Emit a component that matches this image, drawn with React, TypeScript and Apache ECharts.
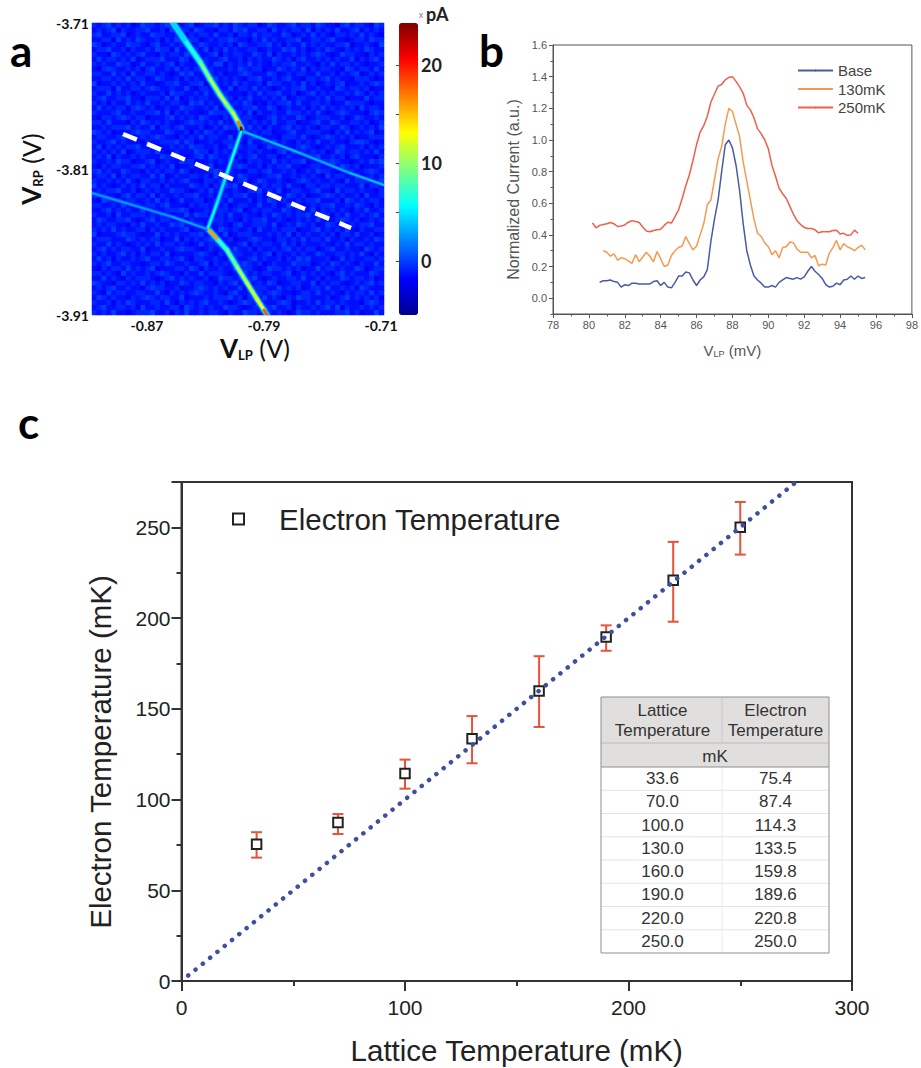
import React, { useEffect, useRef } from "react";
import * as echarts from "echarts";

const heatRows = [
"212312120132212321123012231213212201321123122132110231221032",
"121230211223112031221321102213231122031212213021213112302121",
"231122301211322112302122131120221312211320121312102212131210",
"112203121321120213312201212232110213121122301221231101221322",
"320121132210231121220132112120321122312021131212112230112103",
"122311202112132203112213021312112201211323120121321021213211",
"211032121231102122132111230212211321302112121232101322110212",
"131221213012223111320212112311202121132120231121212113021231",
"212113220131121230211122133021213121021223112102131221210112",
"102321121202311213121230211121321220113212130212211032122131",
"221131203112212101323112212011232111320121221131120212301212",
"112212131220132112021211331212102231121231102212312110222101",
"301121212131101223112230121213121120322112131201212301121232",
"122203112212321121131022121130221312101212231121103212212011",
"211312120121112032211213122211102131223112012312121121320212",
"123112231102221313012122111320213112121301221121312201113122",
"212021131213112122103231211212132010212231311221201132221011",
"131212202321201211322112130121122311320121120213121212031221",
"211123112112231302121101322211213021121132212131012321110232",
"102212321220111231212132110213122101231211320122211201321121",
"221311102132121210123221213112021212131122011231132112212012",
"112122231211302212311120121322113120211231212102211320121213",
"321201112322111321120213212101231212201123112221102131212301",
"122112320121232110212131221130212321110222131012321212011222",
"211231211102112223132011211222103112131210212131121102332101",
"130212122311201121213221120131212201322111232101212311120212",
"212121301222131012111322021213112121102313121212013212212131",
"121302112121113222101231321120212311220121112231121202311102",
"211213220112301211322011212132102121131212230112232110121323",
"102122112231212130112122301112321120212231101221121321201112",
"231211321102121221320111232121102212311212012132210122112321",
"122130212211313012112212031221321101223112121210312211301212",
"211212131022112121231102212111230132112101232121121031222113",
"312101212131220211113212021323011212122131102212212211130221",
"121223112012121132210121312112102231213012211231103122121102",
"212110231221302112122311201212231120121132120112321211203112",
"103212122112131201311220122131112021321211212231112032121221",
"221121310212212311102122131201221131120132101212231121321021",
"112312121130111222320112112212301212211321211302121210213112",
"211203112221212101131322012131121102132121223112202131121231",
"132112231012312211202111322121021223112101212131112321201212",
"121221102131121132311220112102311222130121321201321102122311",
"212131211220212111230112213212112031121222011231212131021122",
"301112322101131212112231121301222111212130212112120221311201",
"122211132121220113021212311120112321102212131221311202112132",
"211312101212131221210131222111230212211312021112102131221211",
"123121221130112112322101211213112021121231212201231121103212",
"212112312021221301111232102132211212302112121132112212131021",
"131202112123112212310221121032112312112021323111201312112212",
"212311221101221321121123021211232120121113222012132121021131",
"102122131212301112213202112113122101322121201131221211320122",
"221210312112123211021131222101131212211230121212102312111321",
"113121021222101231212112013221212310121122131120211321221201",
"321102212131212011321221102123112121320112211302122101212312",
"121231121102322112011232121211301222113121201221311212032111",
"210312211221131021212321121023112121232110122131121021221312",
"132121102123212211301112122231202113121021322111201231212120",
"211202132111221310212123112101232121112320112131221211102321",
"123112212031121122032121211322101212231120211212313021121212",
"212131101222311202131121221021132211212101322121112231201131",
];
const heatLevels = [-2.1, -1.4, -0.7, 0, 1];

const colorbarTicks = [0, 5, 10, 15, 20];
const colorbarLabels = [0, 10, 20];
const jetColors = ["#00008f", "#0000ff", "#0080ff", "#00ffff", "#80ff80", "#ffff00", "#ff8000", "#ff0000", "#800000"];

// [V_LP, V_RP, pA, width]
const ridgeUpper = [[-0.8522, -3.71, 4.5, 3], [-0.8433, -3.723, 6.5, 3], [-0.8337, -3.7367, 9.5, 3], [-0.8269, -3.7484, 11, 3], [-0.8201, -3.7593, 11.5, 3], [-0.8153, -3.7662, 10, 3], [-0.8112, -3.7717, 12, 3], [-0.8078, -3.7778, 17, 3], [-0.8057, -3.7819, 24, 3], [-0.8052, -3.784, 19, 2]];
const ridgeMiddle = [[-0.8057, -3.7847, 6, 2.5], [-0.8153, -3.8128, 5, 2.5], [-0.8221, -3.8333, 5.5, 2.5], [-0.8283, -3.8504, 6, 2.5]];
const ridgeRight = [[-0.805, -3.784, 3.8, 1.8], [-0.7653, -3.7991, 3.2, 1.8], [-0.7311, -3.8128, 3.8, 1.8], [-0.7079, -3.821, 3.8, 1.8]];
const ridgeLeft = [[-0.9076, -3.8265, 2.8, 1.8], [-0.8796, -3.8347, 2.6, 1.8], [-0.8522, -3.8429, 3.2, 1.8], [-0.829, -3.8511, 3.8, 1.8]];
const ridgeLower = [[-0.8276, -3.8518, 16, 3], [-0.8214, -3.8587, 7, 3], [-0.8153, -3.8655, 8.5, 3], [-0.8084, -3.8771, 11, 3], [-0.8016, -3.8881, 12, 3], [-0.7948, -3.8991, 13, 3], [-0.79, -3.9066, 18, 3], [-0.7879, -3.91, 10, 3]];
const scanLine = [[-0.8864, -3.786], [-0.7305, -3.8504]];

const baseSeries = [[80.6,0.1],[80.8,0.11],[81,0.11],[81.2,0.115],[81.4,0.105],[81.6,0.1],[81.8,0.07],[82,0.085],[82.2,0.08],[82.4,0.095],[82.6,0.095],[82.8,0.09],[83,0.09],[83.2,0.09],[83.4,0.09],[83.6,0.105],[83.8,0.11],[84,0.08],[84.2,0.1],[84.4,0.07],[84.6,0.065],[84.8,0.1],[85,0.14],[85.2,0.14],[85.4,0.165],[85.6,0.16],[85.8,0.115],[86,0.08],[86.2,0.115],[86.4,0.135],[86.6,0.18],[86.8,0.36],[87,0.5],[87.2,0.62],[87.4,0.8],[87.6,0.97],[87.8,1],[88,0.95],[88.2,0.84],[88.4,0.68],[88.6,0.47],[88.8,0.3],[89,0.21],[89.2,0.14],[89.4,0.115],[89.6,0.095],[89.8,0.07],[90,0.07],[90.2,0.08],[90.4,0.07],[90.6,0.1],[90.8,0.115],[91,0.13],[91.2,0.125],[91.4,0.12],[91.6,0.13],[91.8,0.12],[92,0.135],[92.2,0.17],[92.4,0.2],[92.6,0.17],[92.8,0.15],[93,0.125],[93.2,0.085],[93.4,0.07],[93.6,0.075],[93.8,0.095],[94,0.085],[94.2,0.115],[94.4,0.12],[94.6,0.14],[94.8,0.12],[95,0.14],[95.2,0.125],[95.4,0.13]];
const mk130Series = [[80.8,0.3],[81,0.29],[81.2,0.265],[81.4,0.28],[81.6,0.24],[81.8,0.255],[82,0.25],[82.2,0.235],[82.4,0.22],[82.6,0.275],[82.8,0.23],[83,0.26],[83.2,0.29],[83.4,0.265],[83.6,0.23],[83.8,0.295],[84,0.25],[84.2,0.2],[84.4,0.21],[84.6,0.27],[84.8,0.3],[85,0.32],[85.2,0.33],[85.4,0.39],[85.6,0.345],[85.8,0.305],[86,0.33],[86.2,0.4],[86.4,0.47],[86.6,0.59],[86.8,0.62],[87,0.75],[87.2,0.88],[87.4,0.96],[87.6,1.1],[87.8,1.2],[88,1.18],[88.2,1.1],[88.4,1.02],[88.6,0.86],[88.8,0.74],[89,0.62],[89.2,0.5],[89.4,0.41],[89.6,0.39],[89.8,0.35],[90,0.325],[90.2,0.275],[90.4,0.3],[90.6,0.255],[90.8,0.32],[91,0.325],[91.2,0.355],[91.4,0.35],[91.6,0.31],[91.8,0.29],[92,0.29],[92.2,0.29],[92.4,0.255],[92.6,0.27],[92.8,0.205],[93,0.215],[93.2,0.21],[93.4,0.285],[93.6,0.32],[93.8,0.365],[94,0.305],[94.2,0.345],[94.4,0.325],[94.6,0.315],[94.8,0.3],[95,0.32],[95.2,0.335],[95.4,0.305]];
const mk250Series = [[80.2,0.475],[80.4,0.445],[80.6,0.46],[80.8,0.465],[81,0.47],[81.2,0.478],[81.4,0.47],[81.6,0.453],[81.8,0.456],[82,0.463],[82.2,0.48],[82.4,0.49],[82.6,0.485],[82.8,0.478],[83,0.45],[83.2,0.425],[83.4,0.42],[83.6,0.428],[83.8,0.432],[84,0.435],[84.2,0.46],[84.4,0.48],[84.6,0.475],[84.8,0.515],[85,0.558],[85.2,0.63],[85.4,0.71],[85.6,0.78],[85.8,0.87],[86,0.97],[86.2,1.05],[86.4,1.09],[86.6,1.15],[86.8,1.24],[87,1.29],[87.2,1.34],[87.4,1.35],[87.6,1.38],[87.8,1.395],[88,1.4],[88.2,1.37],[88.4,1.335],[88.6,1.295],[88.8,1.22],[89,1.19],[89.2,1.14],[89.4,1.07],[89.6,1.04],[89.8,1],[90,0.945],[90.2,0.84],[90.4,0.77],[90.6,0.695],[90.8,0.66],[91,0.63],[91.2,0.58],[91.4,0.53],[91.6,0.49],[91.8,0.465],[92,0.447],[92.2,0.44],[92.4,0.44],[92.6,0.432],[92.8,0.413],[93,0.42],[93.2,0.42],[93.4,0.42],[93.6,0.428],[93.8,0.43],[94,0.405],[94.2,0.41],[94.4,0.397],[94.6,0.4],[94.8,0.43],[95,0.41]];
const bMajorY = [0, 0.2, 0.4, 0.6, 0.8, 1.0, 1.2, 1.4, 1.6];
const bMinorY = [-0.1, 0.1, 0.3, 0.5, 0.7, 0.9, 1.1, 1.3, 1.5];

const latticeText = ["33.6", "70.0", "100.0", "130.0", "160.0", "190.0", "220.0", "250.0"];
const electronText = ["75.4", "87.4", "114.3", "133.5", "159.8", "189.6", "220.8", "250.0"];
const errLow = [68, 81, 106, 120, 140, 182, 198, 235];
const errHigh = [82, 92, 122, 146, 179, 196, 242, 264];
const idealLine = [[3, 3], [275.5, 275.5]];

const SANS = "'Liberation Sans', Arial, sans-serif";
const LATO = "Lato, sans-serif";

function toSegments(points: number[][]) {
  const out: number[][] = [];
  for (let i = 0; i < points.length - 1; i++) {
    const p = points[i];
    const q = points[i + 1];
    out.push([p[0], p[1], p[2], q[0], q[1], p[3]]);
  }
  return out;
}

function tableGraphics() {
  const L = 601, R = 829, M = 722, T = 697, H1 = 743, H2 = 767, B = 953;
  const rowH = (B - H2) / latticeText.length;
  const els: any[] = [];
  els.push({ type: "rect", shape: { x: L, y: T, width: R - L, height: H2 - T }, style: { fill: "#e0dfde" }, silent: true });
  const line = (x1: number, y1: number, x2: number, y2: number, stroke: string, lineWidth = 1) =>
    els.push({ type: "line", shape: { x1, y1, x2, y2 }, style: { stroke, lineWidth }, silent: true });
  const txt = (x: number, y: number, text: string) =>
    els.push({ type: "text", x, y, silent: true, style: { text, fill: "#333", font: `17px ${SANS}`, textAlign: "center", textVerticalAlign: "middle" } });
  latticeText.forEach((_, i) => {
    if (i > 0) line(L, H2 + i * rowH, R, H2 + i * rowH, "#e4e4e4");
  });
  line(M, H2, M, B, "#e8e8e8");
  line(M, T, M, H1, "#c8c6c5");
  line(L, H1, R, H1, "#bdbbba");
  line(L, H2, R, H2, "#8e8e8e");
  els.push({ type: "rect", shape: { x: L, y: T, width: R - L, height: B - T }, style: { fill: "none", stroke: "#8f8f8f", lineWidth: 1 }, silent: true });
  txt((L + M) / 2 + 1, 710, "Lattice");
  txt((L + M) / 2 + 1, 730, "Temperature");
  txt((M + R) / 2, 710, "Electron");
  txt((M + R) / 2, 730, "Temperature");
  txt((L + R) / 2, 756, "mK");
  latticeText.forEach((t, i) => {
    txt((L + M) / 2 + 1, H2 + (i + 0.5) * rowH, t);
    txt((M + R) / 2, H2 + (i + 0.5) * rowH, electronText[i]);
  });
  return els;
}

function panelLetter(text: string, x: number, y: number) {
  return { type: "text", x, y, silent: true, style: { text, fill: "#000", font: `bold 44px ${LATO}`, textAlign: "left", textVerticalAlign: "top" } };
}

export default function App() {
  const ref = useRef<HTMLDivElement>(null);
  useEffect(() => {
    document.body.style.margin = "0";
    const chart = echarts.init(ref.current!, undefined, { renderer: "svg" });
    const cols = heatRows[0].length;
    const heatData: number[][] = [];
    heatRows.forEach((r, j) => r.split("").forEach((c, i) => heatData.push([i, j, heatLevels[Number(c)]])));
    const layer = (r: number[][], pA: number, w: number) => toSegments(r.map((p) => [p[0], p[1], pA, w]));
    const segments = [
      ...layer(ridgeUpper, 1.5, 7.5), ...layer(ridgeLower, 1.5, 7),
      ...layer(ridgeUpper, 4.8, 5.2), ...layer(ridgeLower, 4.8, 4.8),
      ...layer(ridgeMiddle, 1.5, 5), ...layer(ridgeRight, 1, 3.6), ...layer(ridgeLeft, 0.8, 3.6),
      ...[ridgeUpper, ridgeMiddle, ridgeRight, ridgeLeft, ridgeLower].flatMap(toSegments),
    ];
    const points = latticeText.map((t, i) => [Number(t), Number(electronText[i])]);
    const errs = latticeText.map((t, i) => [Number(t), errLow[i], errHigh[i]]);

    const gridA = { left: 92, top: 23, width: 292, height: 292 };
    const gridB = { left: 553, top: 45, width: 362, height: 269 };
    const gridC = { left: 181.5, top: 482, width: 670.5, height: 499 };
    const bText = "#555";
    const bLabel = { color: bText, fontSize: 11, fontFamily: SANS };
    const cLine = { lineStyle: { color: "#333", width: 2 } };
    const aRich = {
      v: { fontFamily: LATO, fontWeight: "bold", fontSize: 26, color: "#111" },
      s: { fontFamily: LATO, fontWeight: "bold", fontSize: 13, color: "#111", verticalAlign: "bottom", padding: [8, 0, 0, 0] },
      p: { fontFamily: LATO, fontSize: 25, color: "#111" },
    };

    chart.setOption({
      animation: false,
      backgroundColor: "#fff",
      textStyle: { fontFamily: SANS },
      graphic: [
        panelLetter("a", 10, 28),
        panelLetter("b", 479, 28),
        panelLetter("c", 18, 400),
        { type: "text", x: 421, y: 15, silent: true, style: { text: "x", fill: "#777", font: `9px ${SANS}`, textAlign: "center", textVerticalAlign: "middle" } },
        { type: "text", x: 426, y: 14, silent: true, style: { text: "pA", fill: "#222", font: `bold 18px ${LATO}`, textAlign: "left", textVerticalAlign: "middle" } },
        ...tableGraphics(),
      ],
      grid: [
        { ...gridA, show: true, backgroundColor: "#0a32e6", borderWidth: 0 },
        { ...gridA, show: false },
        { left: 399, top: 23, width: 19, height: 292, show: false },
        { ...gridB, show: true, borderColor: "#555", borderWidth: 1 },
        { ...gridC, show: true, borderColor: "#333", borderWidth: 2 },
      ],
      visualMap: {
        type: "continuous", min: -5.5, max: 24.3, seriesIndex: [0, 1], dimension: 2,
        inRange: { color: jetColors }, left: 399, top: 23, itemWidth: 19, itemHeight: 292,
        calculable: false, hoverLink: false, text: undefined, padding: 0, borderWidth: 0,
      },
      xAxis: [
        { gridIndex: 0, type: "category", data: Array.from({ length: cols }, (_, i) => i), show: false },
        {
          gridIndex: 1, type: "value", min: -0.9076, max: -0.708,
          axisLine: { show: false }, axisTick: { show: false }, splitLine: { show: false },
          axisLabel: { customValues: [-0.87, -0.79, -0.71], color: "#111", fontWeight: "bold", fontSize: 14, fontFamily: LATO, margin: 3 },
          name: "{v|V}{s|LP}{p| (V)}", nameLocation: "middle", nameGap: 20,
          nameTextStyle: { padding: [0, 0, 0, 34], rich: aRich },
        },
        { gridIndex: 2, type: "value", show: false, min: 0, max: 1 },
        {
          gridIndex: 3, type: "value", min: 78, max: 98, interval: 2,
          axisLine: { lineStyle: { color: "#555", width: 1 }, onZero: false }, axisTick: { length: 4, lineStyle: { color: "#555" } },
          minorTick: { show: true, splitNumber: 2, length: 2.5, lineStyle: { color: "#555" } }, splitLine: { show: false }, minorSplitLine: { show: false },
          axisLabel: { ...bLabel, margin: 5, showMaxLabel: true },
          name: "{a|V}{s|LP}{a| (mV)}", nameLocation: "middle", nameGap: 29,
          nameTextStyle: { rich: { a: { fontSize: 15, color: bText, fontFamily: SANS }, s: { fontSize: 9, color: bText, fontFamily: SANS, verticalAlign: "bottom", padding: [6, 0, 0, 0] } } },
        },
        {
          gridIndex: 4, type: "value", min: 0, max: 300, interval: 100,
          axisLine: { ...cLine, onZero: false }, axisTick: { length: 10, ...cLine },
          minorTick: { show: true, splitNumber: 2, length: 5, ...cLine }, splitLine: { show: false }, minorSplitLine: { show: false },
          axisLabel: { color: "#222", fontSize: 21, fontFamily: SANS, margin: 16 },
          name: "Lattice Temperature (mK)", nameLocation: "middle", nameGap: 54,
          nameTextStyle: { color: "#222", fontSize: 29.5, fontFamily: SANS },
        },
      ],
      yAxis: [
        { gridIndex: 0, type: "category", inverse: true, data: heatRows.map((_, i) => i), show: false },
        {
          gridIndex: 1, type: "value", min: -3.91, max: -3.71,
          axisLine: { show: false }, axisTick: { show: false }, splitLine: { show: false },
          axisLabel: { customValues: [-3.91, -3.81, -3.71], color: "#111", fontWeight: "bold", fontSize: 14, fontFamily: LATO, margin: 3 },
          name: "{v|V}{s|RP}{p| (V)}", nameLocation: "middle", nameGap: 48, nameRotate: 90,
          nameTextStyle: { rich: aRich },
        },
        {
          gridIndex: 2, type: "value", position: "right", min: -5.5, max: 24.3, z: 10,
          axisLine: { show: false }, splitLine: { show: false },
          axisTick: { show: true, inside: true, length: 3, customValues: colorbarTicks, lineStyle: { color: "#444" } },
          axisLabel: { customValues: colorbarLabels, color: "#222", fontWeight: "bold", fontSize: 18, fontFamily: LATO, margin: 3 },
        },
        {
          gridIndex: 3, type: "value", min: -0.1, max: 1.6,
          axisLine: { lineStyle: { color: "#555", width: 1 } }, splitLine: { show: false },
          axisTick: { length: 4, customValues: bMajorY, lineStyle: { color: "#555" } },
          axisLabel: { ...bLabel, customValues: bMajorY, margin: 6, formatter: (v: number) => v.toFixed(1) },
          name: "Normalized Current (a.u.)", nameLocation: "middle", nameGap: 32,
          nameTextStyle: { color: bText, fontSize: 16, fontFamily: SANS, padding: [0, 20, 0, 0] },
        },
        {
          gridIndex: 3, type: "value", min: -0.1, max: 1.6, position: "left",
          axisLine: { show: false }, splitLine: { show: false },
          axisTick: { length: 2.5, customValues: bMinorY, lineStyle: { color: "#555" } },
          axisLabel: { show: false },
        },
        {
          gridIndex: 4, type: "value", min: 0, max: 275, interval: 50,
          axisLine: { ...cLine, onZero: false }, axisTick: { length: 10, ...cLine },
          minorTick: { show: true, splitNumber: 2, length: 5, ...cLine }, splitLine: { show: false }, minorSplitLine: { show: false },
          axisLabel: { color: "#222", fontSize: 21, fontFamily: SANS, margin: 11, showMaxLabel: false },
          name: "Electron Temperature (mK)", nameLocation: "middle", nameGap: 66,
          nameTextStyle: { color: "#222", fontSize: 29.5, fontFamily: SANS, padding: [0, 41, 0, 0] },
        },
      ],
      legend: [
        {
          data: ["Base", "130mK", "250mK"], left: 797, top: 63, orient: "vertical", itemWidth: 35, itemHeight: 2, itemGap: 3.5,
          selectedMode: false, padding: 0,
          textStyle: { color: "#444", fontSize: 15, fontFamily: SANS },
        },
        {
          data: ["Electron Temperature"], left: 232, top: 504, itemWidth: 11, itemHeight: 11, selectedMode: false, padding: 0,
          icon: "rect", itemStyle: { color: "#fff", borderColor: "#222", borderWidth: 2 },
          textStyle: { color: "#222", fontSize: 29.5, fontFamily: SANS, padding: [0, 0, 0, 30] },
        },
      ],
      series: [
        { type: "heatmap", xAxisIndex: 0, yAxisIndex: 0, data: heatData, progressive: 0, silent: true },
        {
          type: "custom", xAxisIndex: 1, yAxisIndex: 1, data: segments, silent: true,
          encode: { x: 0, y: 1 },
          renderItem: (params: any, api: any) => {
            const a = api.coord([api.value(0), api.value(1)]);
            const b = api.coord([api.value(3), api.value(4)]);
            const c = params.coordSys;
            return {
              type: "line",
              shape: { x1: a[0], y1: a[1], x2: b[0], y2: b[1] },
              style: { stroke: api.visual("color"), lineWidth: api.value(5), lineCap: "round", fill: "none" },
              clipPath: { type: "rect", shape: { x: c.x, y: c.y, width: c.width, height: c.height } },
            };
          },
        },
        {
          type: "line", xAxisIndex: 1, yAxisIndex: 1, data: scanLine, symbol: "none", silent: true,
          lineStyle: { color: "#fff", width: 4.5, type: [15, 11] },
        },
        { name: "Base", type: "line", xAxisIndex: 3, yAxisIndex: 3, data: baseSeries, symbol: "none", lineStyle: { color: "#4a5aa6", width: 1.5 }, itemStyle: { color: "#4a5aa6" } },
        { name: "130mK", type: "line", xAxisIndex: 3, yAxisIndex: 3, data: mk130Series, symbol: "none", lineStyle: { color: "#f59a52", width: 1.5 }, itemStyle: { color: "#f59a52" } },
        { name: "250mK", type: "line", xAxisIndex: 3, yAxisIndex: 3, data: mk250Series, symbol: "none", lineStyle: { color: "#ee5f4c", width: 1.5 }, itemStyle: { color: "#ee5f4c" } },
        {
          type: "line", xAxisIndex: 4, yAxisIndex: 5, data: idealLine, symbol: "none", silent: true, clip: true,
          lineStyle: { color: "#3f4f9f", width: 4.5, type: [0.1, 9.3], cap: "round" },
        },
        {
          type: "custom", xAxisIndex: 4, yAxisIndex: 5, data: errs, silent: true, encode: { x: 0, y: [1, 2] },
          renderItem: (_: any, api: any) => {
            const lo = api.coord([api.value(0), api.value(1)]);
            const hi = api.coord([api.value(0), api.value(2)]);
            const style = { stroke: "#e8523a", lineWidth: 2, fill: "none" };
            return {
              type: "group",
              children: [
                { type: "line", shape: { x1: lo[0], y1: lo[1], x2: hi[0], y2: hi[1] }, style },
                { type: "line", shape: { x1: lo[0] - 5.5, y1: lo[1], x2: lo[0] + 5.5, y2: lo[1] }, style },
                { type: "line", shape: { x1: hi[0] - 5.5, y1: hi[1], x2: hi[0] + 5.5, y2: hi[1] }, style },
              ],
            };
          },
        },
        {
          name: "Electron Temperature", type: "scatter", xAxisIndex: 4, yAxisIndex: 5, data: points, symbol: "rect", symbolSize: 9.5,
          itemStyle: { color: "#fff", borderColor: "#222", borderWidth: 2, opacity: 1 },
        },
      ],
    });
    return () => chart.dispose();
  }, []);
  return <div ref={ref} style={{ width: 921, height: 1068 }} />;
}
